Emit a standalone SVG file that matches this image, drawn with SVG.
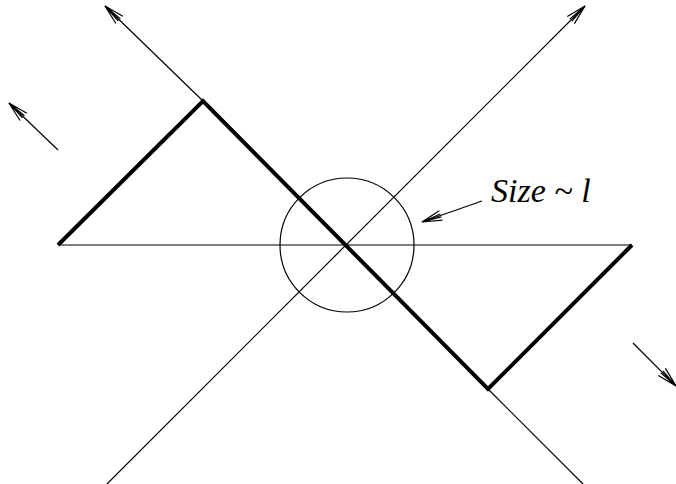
<svg xmlns="http://www.w3.org/2000/svg" width="676" height="484" viewBox="0 0 676 484">
<style>
.thin{stroke:#000;stroke-width:1.2;fill:none}
.thick{stroke:#000;stroke-width:4;fill:none;stroke-linejoin:miter}
.lbl{font-family:'Liberation Serif','Times New Roman',serif;font-style:italic;font-size:34px;fill:#000}
</style>
<defs>
<marker id="ah" markerUnits="userSpaceOnUse" markerWidth="30" markerHeight="20" viewBox="-25 -10 30 20" refX="0" refY="0" orient="auto" overflow="visible">
<path d="M-20,-5 L0,0 L-20,5 M-20,-1.5 L0,0 L-20,1.5" stroke="#000" stroke-width="1.2" fill="none"/>
</marker>
</defs>
<g id="connectors">
<line class="thin" x1="58" y1="245" x2="632" y2="245"/>
<line class="thin" x1="107" y1="484" x2="585" y2="6" marker-end="url(#ah)"/>
<line class="thin" x1="203" y1="101" x2="105" y2="6" marker-end="url(#ah)"/>
<line class="thin" x1="488" y1="389" x2="583" y2="484"/>
<line class="thin" x1="58" y1="150" x2="9" y2="103" marker-end="url(#ah)"/>
<line class="thin" x1="633" y1="343" x2="676" y2="386" marker-end="url(#ah)"/>
<line class="thin" x1="482" y1="201" x2="422" y2="222" marker-end="url(#ah)"/>
</g>
<g id="circle">
<circle class="thin" cx="347" cy="245" r="67"/>
</g>
<g id="bowtie">
<polyline class="thick" points="58,245 203,101 488,389 632,245"/>
</g>
<g id="label">
<text class="lbl" x="491" y="202">Size ~ l</text>
</g>
</svg>
